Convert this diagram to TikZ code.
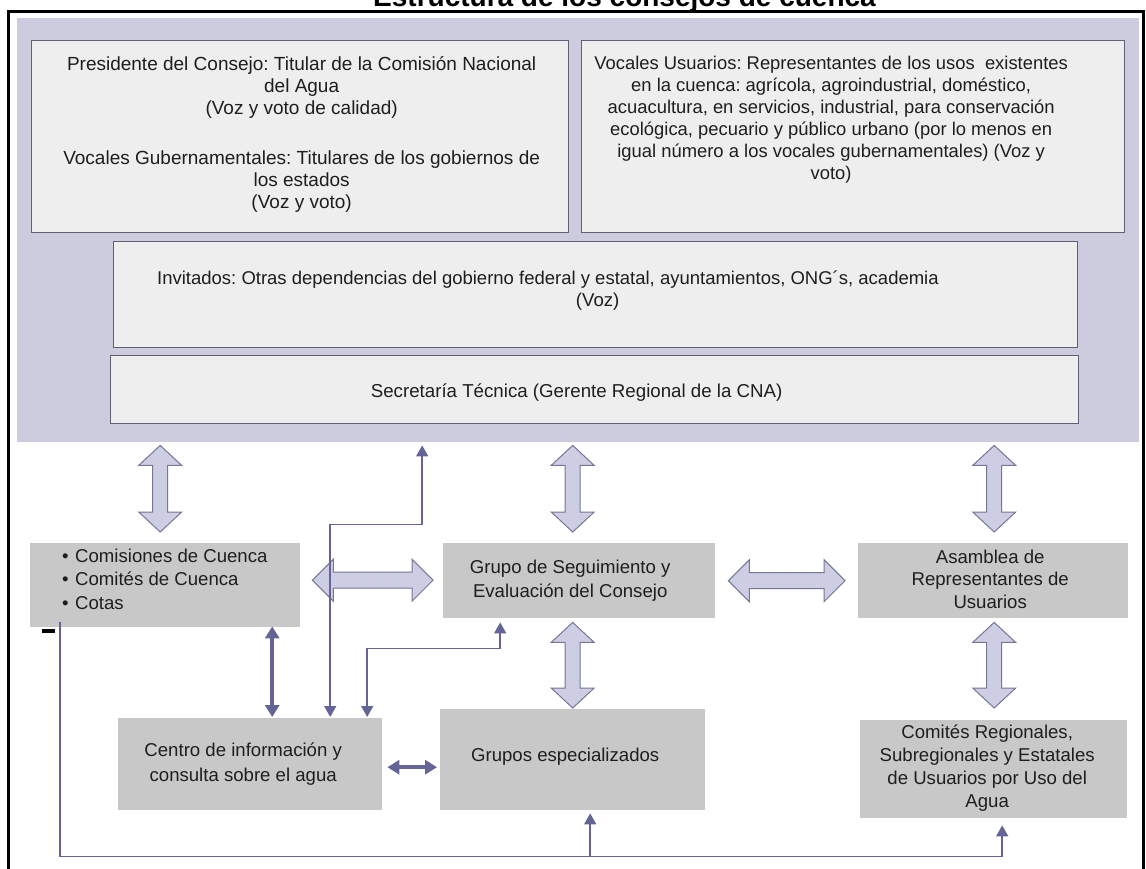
\documentclass[tikz,border=0pt]{standalone}
\usepackage{fontspec}
\setmainfont{Liberation Sans}
\usetikzlibrary{calc,arrows.meta}
\frenchspacing

\definecolor{lavback}{RGB}{204,204,222}
\definecolor{panelfill}{RGB}{238,238,238}
\definecolor{panelline}{RGB}{95,95,120}
\definecolor{boxfill}{RGB}{200,200,200}
\definecolor{fatfill}{RGB}{205,205,228}
\definecolor{fatline}{RGB}{118,118,150}
\definecolor{linkblue}{RGB}{100,100,150}
\definecolor{textc}{RGB}{30,30,30}

\begin{document}
\begin{tikzpicture}[x=1pt,y=-1pt,
  panel/.style={draw=panelline, line width=1.3pt, fill=panelfill, inner sep=0pt, anchor=north west},
  gbox/.style={fill=boxfill, inner sep=0pt, anchor=north west},
  txt/.style={font=\fontsize{18.6}{22}\selectfont, text=textc, inner sep=0pt, anchor=base},
  thinlink/.style={draw=linkblue, line width=1.6pt},
  tip/.style={-{Triangle[length=11pt,width=12pt]}},
  tips/.style={{Triangle[length=11pt,width=12pt]}-{Triangle[length=11pt,width=12pt]}},
  thicklink/.style={draw=linkblue, line width=4pt, {Triangle[length=12pt,width=14pt]}-{Triangle[length=12pt,width=14pt]}},
  fatV/.style={draw=fatline, fill=fatfill, line width=1pt, line join=miter,
    to path={let \p1=(\tikztostart), \p2=(\tikztotarget) in
      (\x1,\y1) -- (\x1+21.5pt,\y1-20pt) -- (\x1+7.5pt,\y1-20pt) -- (\x1+7.5pt,\y2+20pt)
      -- (\x1+21.5pt,\y2+20pt) -- (\x1,\y2) -- (\x1-21.5pt,\y2+20pt) -- (\x1-7.5pt,\y2+20pt)
      -- (\x1-7.5pt,\y1-20pt) -- (\x1-21.5pt,\y1-20pt) -- cycle}},
  fatH/.style={draw=fatline, fill=fatfill, line width=1pt, line join=miter,
    to path={let \p1=(\tikztostart), \p2=(\tikztotarget) in
      (\x1,\y1) -- (\x1+21pt,\y1+21pt) -- (\x1+21pt,\y1+8pt) -- (\x2-21pt,\y1+8pt)
      -- (\x2-21pt,\y1+21pt) -- (\x2,\y1) -- (\x2-21pt,\y1-21pt) -- (\x2-21pt,\y1-8pt)
      -- (\x1+21pt,\y1-8pt) -- (\x1+21pt,\y1-21pt) -- cycle}}
]
\clip (0,0) rectangle (1146,868);
\fill[white] (0,0) rectangle (1146,868);

% title and outer frame
\node[anchor=base, inner sep=0pt, text=black, font=\fontsize{28}{30}\selectfont\bfseries]
  (title) at (624.5,6) {Estructura de los consejos de cuenca};
\draw[line width=3pt] (8.5,11) rectangle (1143.5,900);

% council block
\node[fill=lavback, inner sep=0pt, anchor=north west, minimum width=1122pt, minimum height=424pt] (lav) at (17,18) {};
\node[panel, minimum width=537pt, minimum height=192pt] (pres) at (31,40) {};
\node[panel, minimum width=543pt, minimum height=192pt] (voc) at (581,40) {};
\node[panel, minimum width=964pt, minimum height=106pt] (inv) at (113,241) {};
\node[panel, minimum width=968pt, minimum height=68pt] (sec) at (110,355) {};

\node[txt, font=\fontsize{19}{22}\selectfont] (pres-t) at ($(pres.north)+(1.5,30)$) {\parbox[t]{530pt}{\centering
  Presidente del Consejo: Titular de la Comisión Nacional\\
  del Agua\\
  (Voz y voto de calidad)\\[28pt]
  Vocales Gubernamentales: Titulares de los gobiernos de\\
  los estados\\
  (Voz y voto)}};
\node[txt, font=\fontsize{18.4}{22}\selectfont] (voc-t) at ($(voc.north)+(-22,29)$) {\parbox[t]{530pt}{\centering
  Vocales Usuarios: Representantes de los usos\ \ existentes\\
  en la cuenca: agrícola, agroindustrial, doméstico,\\
  acuacultura, en servicios, industrial, para conservación\\
  ecológica, pecuario y público urbano (por lo menos en\\
  igual número a los vocales gubernamentales) (Voz y\\
  voto)}};
\node[txt, anchor=base west, font=\fontsize{18.5}{22}\selectfont] (inv-t) at ($(inv.north west)+(44,43)$)
  {Invitados: Otras dependencias del gobierno federal y estatal, ayuntamientos, ONG´s, academia};
\node[txt] (inv-v) at ($(inv.north)+(2,65)$) {(Voz)};
\node[txt, font=\fontsize{18.7}{22}\selectfont] (sec-t) at ($(sec.north)+(-18,42)$) {Secretaría Técnica (Gerente Regional de la CNA)};

% lower organisation boxes
\node[gbox, minimum width=270pt, minimum height=84pt] (cs) at (30,543) {};
\node[gbox, minimum width=272pt, minimum height=75pt] (gs) at (443,543) {};
\node[gbox, minimum width=270pt, minimum height=75pt] (as) at (858,543) {};
\node[gbox, minimum width=264pt, minimum height=92pt] (ce) at (118,718) {};
\node[gbox, minimum width=265pt, minimum height=101pt] (ge) at (440,709) {};
\node[gbox, minimum width=267pt, minimum height=98pt] (cr) at (860,720) {};

\node[txt, anchor=base west] (cs-t) at ($(cs.north west)+(32,19)$) {\parbox[t]{260pt}{\fontsize{18.6}{23.5}\selectfont\raggedright
  \makebox[13pt][l]{\textbullet}Comisiones de Cuenca\\
  \makebox[13pt][l]{\textbullet}Comités de Cuenca\\
  \makebox[13pt][l]{\textbullet}Cotas}};
\node[txt] (gs-t) at ($(gs.north)+(-9,30)$) {\parbox[t]{300pt}{\fontsize{18.6}{24.5}\selectfont\centering
  Grupo de Seguimiento y\\ Evaluación del Consejo}};
\node[txt] (as-t) at ($(as.north)+(-3,20)$) {\parbox[t]{300pt}{\fontsize{18.6}{22.5}\selectfont\centering
  Asamblea de\\ Representantes de\\ Usuarios}};
\node[txt] (ce-t) at ($(ce.north)+(-7,38)$) {\parbox[t]{300pt}{\fontsize{18.6}{25}\selectfont\centering
  Centro de información y\\ consulta sobre el agua}};
\node[txt] (ge-t) at ($(ge.north)+(-7.5,52)$) {Grupos especializados};
\node[txt] (cr-t) at ($(cr.north)+(-6.5,18)$) {\parbox[t]{300pt}{\fontsize{18.6}{23.3}\selectfont\centering
  Comités Regionales,\\ Subregionales y Estatales\\ de Usuarios por Uso del\\ Agua}};

% small mark under the first box
\fill[black] (42,628.5) rectangle (55,633);

% broad two-way arrows
\path[fatV] ($(cs.north|-lav.south)+(-5,3)$) to ($(cs.north)+(-5,-11)$);
\path[fatV] ($(gs.north|-lav.south)+(-6.5,3)$) to ($(gs.north)+(-6.5,-11)$);
\path[fatV] ($(as.north|-lav.south)+(1,3)$) to ($(as.north)+(1,-11)$);
\path[fatV] ($(gs.south)+(-6.5,4)$) to ($(ge.north)+(0,-1)$);
\path[fatV] ($(as.south)+(1,4)$) to ($(cr.north)+(1,-12)$);
\path[fatH] ($(cs.east)+(12,-5)$) to ($(gs.west)+(-10,0)$);
\path[fatH] ($(gs.east)+(13,0)$) to ($(as.west)+(-13,0)$);

% thin connectors
\draw[thinlink, tip] ($(cs.south west)+(30,-5)$) |- ($(cr.south)+(8.5,38)$) -- ($(cr.south)+(8.5,7)$);
\draw[thinlink, tip] ($(ge.south)+(17.5,46)$) -- ($(ge.south)+(17.5,3)$);
\draw[thinlink, tips] ($(ce.north)+(80,-1)$) |- ($(lav.south)+(-156,82)$) -- ($(lav.south)+(-156,3)$);
\draw[thinlink, tips] ($(ce.north)+(117,-1)$) |- ($(gs.south)+(-79,30)$) -- ($(gs.south)+(-79,4)$);
\draw[thicklink] ($(cs.south)+(107,-1)$) -- ($(ce.north)+(22,-1)$);
\draw[thicklink] ($(ce.east)+(5,3)$) -- ($(ge.west|-ce.east)+(-3,3)$);
\end{tikzpicture}
\end{document}
